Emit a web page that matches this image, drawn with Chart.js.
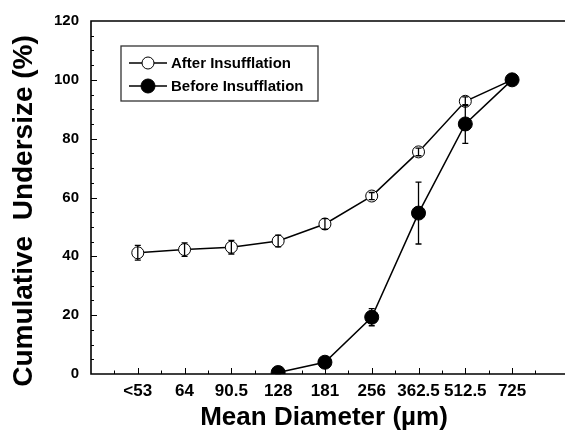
<!DOCTYPE html>
<html>
<head>
<meta charset="utf-8">
<script src="https://cdn.jsdelivr.net/npm/chart.js@4.4.1/dist/chart.umd.min.js"></script>
<style>
  html, body { margin: 0; padding: 0; background: #fff; }
  #wrap { width: 565px; height: 436px; position: relative; }
</style>
</head>
<body>
<div id="wrap"><canvas id="chart"></canvas></div>
<script>
const categories = ['<53', '64', '90.5', '128', '181', '256', '362.5', '512.5', '725']
const afterValues = [41.2, 42.3, 43.1, 45.2, 51.0, 60.5, 75.5, 92.7, 100]
const afterErrors = [2.5, 2.3, 2.3, 2.0, 1.8, 1.2, 1.3, 1.5, 0]
const beforeValues = [null, null, null, 0.5, 4.0, 19.3, 54.7, 85.0, 100]
const beforeErrors = [null, null, null, 0.4, 0.8, 2.9, 10.5, 6.6, 0]
const yTicks = [0, 20, 40, 60, 80, 100, 120]
const yTitle = 'Cumulative  Undersize (%)'

const FONT = 'Arial, "Liberation Sans", sans-serif'

function toPoints(values) {
    return values.map((v, i) => ({x: i + 1, y: v})).filter(p => p.y !== null)
}
function toErrors(values, errors) {
    return errors.filter((e, i) => values[i] !== null)
}

// axes drawn by hand: ticks point inward, no right border
const frame = {
    id: 'frame',
    beforeDatasetsDraw(chart) {
        const {ctx, chartArea: a, scales: {x, y}} = chart
        ctx.save()
        ctx.strokeStyle = '#000'
        ctx.lineWidth = 1.6
        ctx.beginPath()
        ctx.moveTo(chart.width, a.top)
        ctx.lineTo(a.left, a.top)
        ctx.lineTo(a.left, a.bottom)
        ctx.lineTo(chart.width, a.bottom)
        ctx.stroke()
        ctx.lineWidth = 1
        ctx.beginPath()
        for (let v = 5; v < 120; v += 5) {
            const py = Math.round(y.getPixelForValue(v)) + 0.5
            const len = v % 20 === 0 ? 6 : 3
            ctx.moveTo(a.left, py)
            ctx.lineTo(a.left + len, py)
        }
        for (let v = 0.5; v < x.max; v += 0.5) {
            const px = Math.round(x.getPixelForValue(v)) + 0.5
            const len = Number.isInteger(v) ? 6 : 3.5
            ctx.moveTo(px, a.bottom)
            ctx.lineTo(px, a.bottom - len)
        }
        ctx.stroke()

        // y title, placed by hand so it can sit a bit lower than the axis centre
        ctx.fillStyle = '#000'
        ctx.font = 'bold 28px ' + FONT
        ctx.textAlign = 'center'
        ctx.textBaseline = 'alphabetic'
        ctx.translate(32, 211)
        ctx.rotate(-Math.PI / 2)
        ctx.fillText(yTitle, 0, 0)
        ctx.restore()
    }
}

const errorBars = {
    id: 'errorBars',
    afterDatasetsDraw(chart) {
        const {ctx, scales: {x, y}} = chart
        ctx.save()
        ctx.strokeStyle = '#000'
        ctx.lineWidth = 1.3
        chart.data.datasets.forEach(ds => {
            ds.data.forEach((p, i) => {
                const err = ds.errors[i]
                if (!err) return
                const px = x.getPixelForValue(p.x)
                const top = y.getPixelForValue(p.y + err)
                const bot = y.getPixelForValue(p.y - err)
                ctx.beginPath()
                ctx.moveTo(px, top)
                ctx.lineTo(px, bot)
                ctx.moveTo(px - 3, top)
                ctx.lineTo(px + 3, top)
                ctx.moveTo(px - 3, bot)
                ctx.lineTo(px + 3, bot)
                ctx.stroke()
            })
        })
        ctx.restore()
    }
}

const legendBox = {
    id: 'legendBox',
    afterDraw(chart) {
        const {ctx} = chart
        ctx.save()
        ctx.fillStyle = '#fff'
        ctx.fillRect(121, 46, 197, 55)
        ctx.strokeStyle = '#333'
        ctx.lineWidth = 1.3
        ctx.strokeRect(121, 46, 197, 55)
        chart.data.datasets.forEach((ds, i) => {
            const cy = 63 + i * 23
            ctx.strokeStyle = ds.borderColor
            ctx.lineWidth = ds.borderWidth
            ctx.beginPath()
            ctx.moveTo(129, cy)
            ctx.lineTo(167, cy)
            ctx.stroke()
            ctx.beginPath()
            ctx.arc(148, cy, ds.pointRadius, 0, Math.PI * 2)
            ctx.fillStyle = ds.pointBackgroundColor
            ctx.fill()
            ctx.lineWidth = ds.pointBorderWidth
            ctx.stroke()
            ctx.fillStyle = '#000'
            ctx.font = 'bold 15px ' + FONT
            ctx.textBaseline = 'middle'
            ctx.fillText(ds.label, 171, cy + 1)
        })
        ctx.restore()
    }
}

new Chart('chart', {
    type: 'line',
    data: {
        datasets: [{
            label: 'After Insufflation',
            data: toPoints(afterValues),
            errors: toErrors(afterValues, afterErrors),
            borderColor: '#000',
            borderWidth: 1.5,
            pointRadius: 6,
            pointBackgroundColor: '#fff',
            pointBorderColor: '#000',
            pointBorderWidth: 1,
            order: 1
        }, {
            label: 'Before Insufflation',
            data: toPoints(beforeValues),
            errors: toErrors(beforeValues, beforeErrors),
            borderColor: '#000',
            borderWidth: 1.5,
            pointRadius: 7,
            pointBackgroundColor: '#000',
            pointBorderColor: '#000',
            pointBorderWidth: 1,
            order: 0
        }]
    },
    options: {
        responsive: true,
        maintainAspectRatio: false,
        animation: false,
        layout: {padding: {top: 21, right: 0, left: 0, bottom: 0}},
        plugins: {legend: {display: false}, tooltip: {enabled: false}},
        elements: {line: {tension: 0}},
        scales: {
            x: {
                type: 'linear',
                min: 0,
                max: 9.96,
                grid: {display: false, drawTicks: false},
                border: {display: false},
                afterBuildTicks: scale => {
                    scale.ticks = categories.map((c, i) => ({value: i + 1}))
                },
                afterFit: scale => { scale.height = 62 },
                ticks: {
                    autoSkip: false,
                    maxRotation: 0,
                    padding: 7,
                    color: '#000',
                    font: {family: FONT, size: 17, weight: 'bold'},
                    callback: v => categories[v - 1]
                },
                title: {
                    display: true,
                    text: 'Mean Diameter (µm)',
                    color: '#000',
                    font: {family: FONT, size: 26, weight: 'bold'},
                    padding: {top: 0, bottom: 3}
                }
            },
            y: {
                min: 0,
                max: 120,
                grid: {display: false, drawTicks: false},
                border: {display: false},
                afterBuildTicks: scale => {
                    scale.ticks = yTicks.map(v => ({value: v}))
                },
                afterFit: scale => { scale.width = 91 },
                ticks: {
                    padding: 12,
                    color: '#000',
                    font: {family: FONT, size: 15, weight: 'bold'}
                },
                title: {display: false}
            }
        }
    },
    plugins: [frame, errorBars, legendBox]
})
</script>
</body>
</html>
